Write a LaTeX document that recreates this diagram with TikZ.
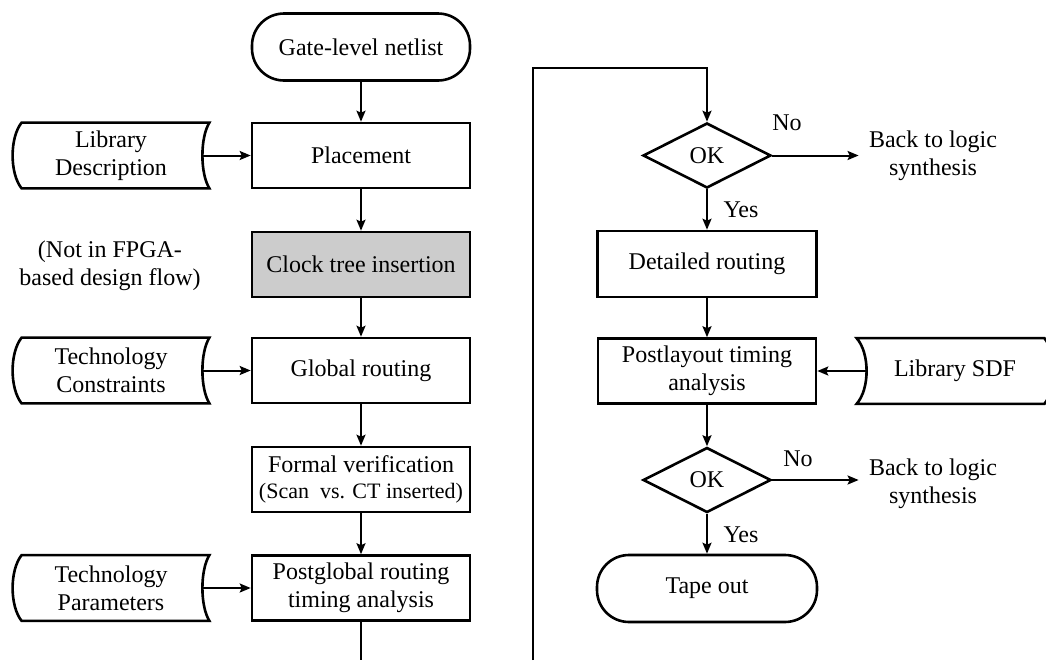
\documentclass[tikz,border=0pt]{standalone}
\usepackage{fontspec}
\setmainfont{Liberation Serif}
\usetikzlibrary{arrows.meta,shapes.geometric,calc}

\tikzset{
  every node/.style={font=\fontsize{12}{14}\selectfont, align=center},
  term/.style={draw, line width=1.3pt, rounded corners=16pt,
    minimum width=109pt, minimum height=33.5pt},
  proc/.style={draw, line width=1.3pt, minimum width=109pt,
    minimum height=32.5pt, inner sep=2pt},
  dec/.style={draw, diamond, line width=1.3pt, minimum width=64pt,
    minimum height=32.5pt, inner sep=0pt},
  datanode/.style={minimum width=98pt, minimum height=32.5pt, inner sep=0pt},
  datashape/.style={draw, line width=1.3pt},
  flow/.style={line width=1pt, -{Stealth[length=5.5pt,width=4.5pt,inset=1pt]}},
  plain/.style={line width=1pt},
  lbl/.style={inner sep=0pt},
  dest/.style={inner sep=5pt}
}

\begin{document}
\begin{tikzpicture}[x=0.5pt, y=-0.5pt]
  \useasboundingbox (0,0) rectangle (1046,660);

  % ---- left column: placement and global routing ----
  \node[term] (gate) at (361,47) {Gate-level netlist};
  \node[proc] (place) at (361,155.5) {Placement};
  \node[proc, fill=gray!40] (clock) at (361,264.5) {Clock tree insertion};
  \node[proc] (global) at (361,370.5) {Global routing};
  \node[proc] (formal) at (361,479.5)
    {Formal verification\\[-1pt]{\fontsize{11}{13}\selectfont (Scan\ \ vs. CT inserted)}};
  \node[proc] (postg) at (361,588) {Postglobal routing\\timing analysis};

  \node (note) at (110,266) {\fontsize{12}{16}\selectfont (Not in FPGA-\\based design flow)};

  % stored-data inputs on the left
  \node[datanode] (libdesc) at (111,155.5) {Library\\Description};
  \node[datanode] (techcon) at (111,370.5) {Technology\\Constraints};
  \node[datanode] (techpar) at (111,588) {Technology\\Parameters};

  \foreach \n in {libdesc,techcon,techpar}{
    \draw[datashape] ($(\n.north west)+(9,0)$) -- (\n.north east)
      .. controls ($(\n.north east)+(-9.33,15)$) and ($(\n.south east)+(-9.33,-15)$) .. (\n.south east)
      -- ($(\n.south west)+(9,0)$)
      .. controls ($(\n.south west)+(-3,-15)$) and ($(\n.north west)+(-3,15)$) .. cycle;
  }

  % ---- right column: detailed routing and sign-off ----
  \node[dec] (ok1) at (707,155.5) {OK};
  \node[proc, minimum width=109.5pt, minimum height=33pt] (detail) at (707,264) {Detailed routing};
  \node[proc] (postl) at (707,371) {Postlayout timing\\analysis};
  \node[dec] (ok2) at (707,480) {OK};
  \node[term, minimum width=110pt] (tape) at (707,588.5) {Tape out};

  \node[dest] (back1) at (933,156) {Back to logic\\synthesis};
  \node[dest] (back2) at (933,484) {Back to logic\\synthesis};

  % stored-data input on the right
  \node[datanode] (libsdf) at (955,371) {Library SDF};
  \draw[datashape] (libsdf.north west) -- ($(libsdf.north east)+(-9,0)$)
      .. controls ($(libsdf.north east)+(3,15)$) and ($(libsdf.south east)+(3,-15)$) .. ($(libsdf.south east)+(-9,0)$)
      -- (libsdf.south west)
      .. controls ($(libsdf.south west)+(13.33,-15)$) and ($(libsdf.north west)+(13.33,15)$) .. cycle;

  % ---- connectors ----
  \draw[flow] (gate) -- (place);
  \draw[flow] (place) -- (clock);
  \draw[flow] (clock) -- (global);
  \draw[flow] (global) -- (formal);
  \draw[flow] (formal) -- (postg);

  \draw[flow] ($(libdesc.east)+(-7,0)$) -- (place.west);
  \draw[flow] ($(techcon.east)+(-7,0)$) -- (global.west);
  \draw[flow] ($(techpar.east)+(-7,0)$) -- (postg.west);

  % continuation from the left column to the right column
  \coordinate (botL) at (361,660);
  \coordinate (botR) at (533,660);
  \coordinate (topR) at (533,68);
  \draw[plain] (postg.south) -- (botL);
  \draw[flow] (botR) -- (topR) -| (ok1.north);

  \draw[flow] (ok1.east) -- (ok1.east -| back1.west);
  \draw[flow] (ok1.south) -- (detail.north);
  \draw[flow] (detail) -- (postl);
  \draw[flow] ($(libsdf.west)+(10,0)$) -- (postl.east);
  \draw[flow] (postl) -- (ok2);
  \draw[flow] (ok2.east) -- (ok2.east -| back2.west);
  \draw[flow] (ok2.south) -- (tape.north);

  % decision labels
  \node[lbl] (no1) at (787,123) {No};
  \node[lbl] (yes1) at (741,210) {Yes};
  \node[lbl] (no2) at (798,459) {No};
  \node[lbl] (yes2) at (741,535) {Yes};
\end{tikzpicture}
\end{document}
